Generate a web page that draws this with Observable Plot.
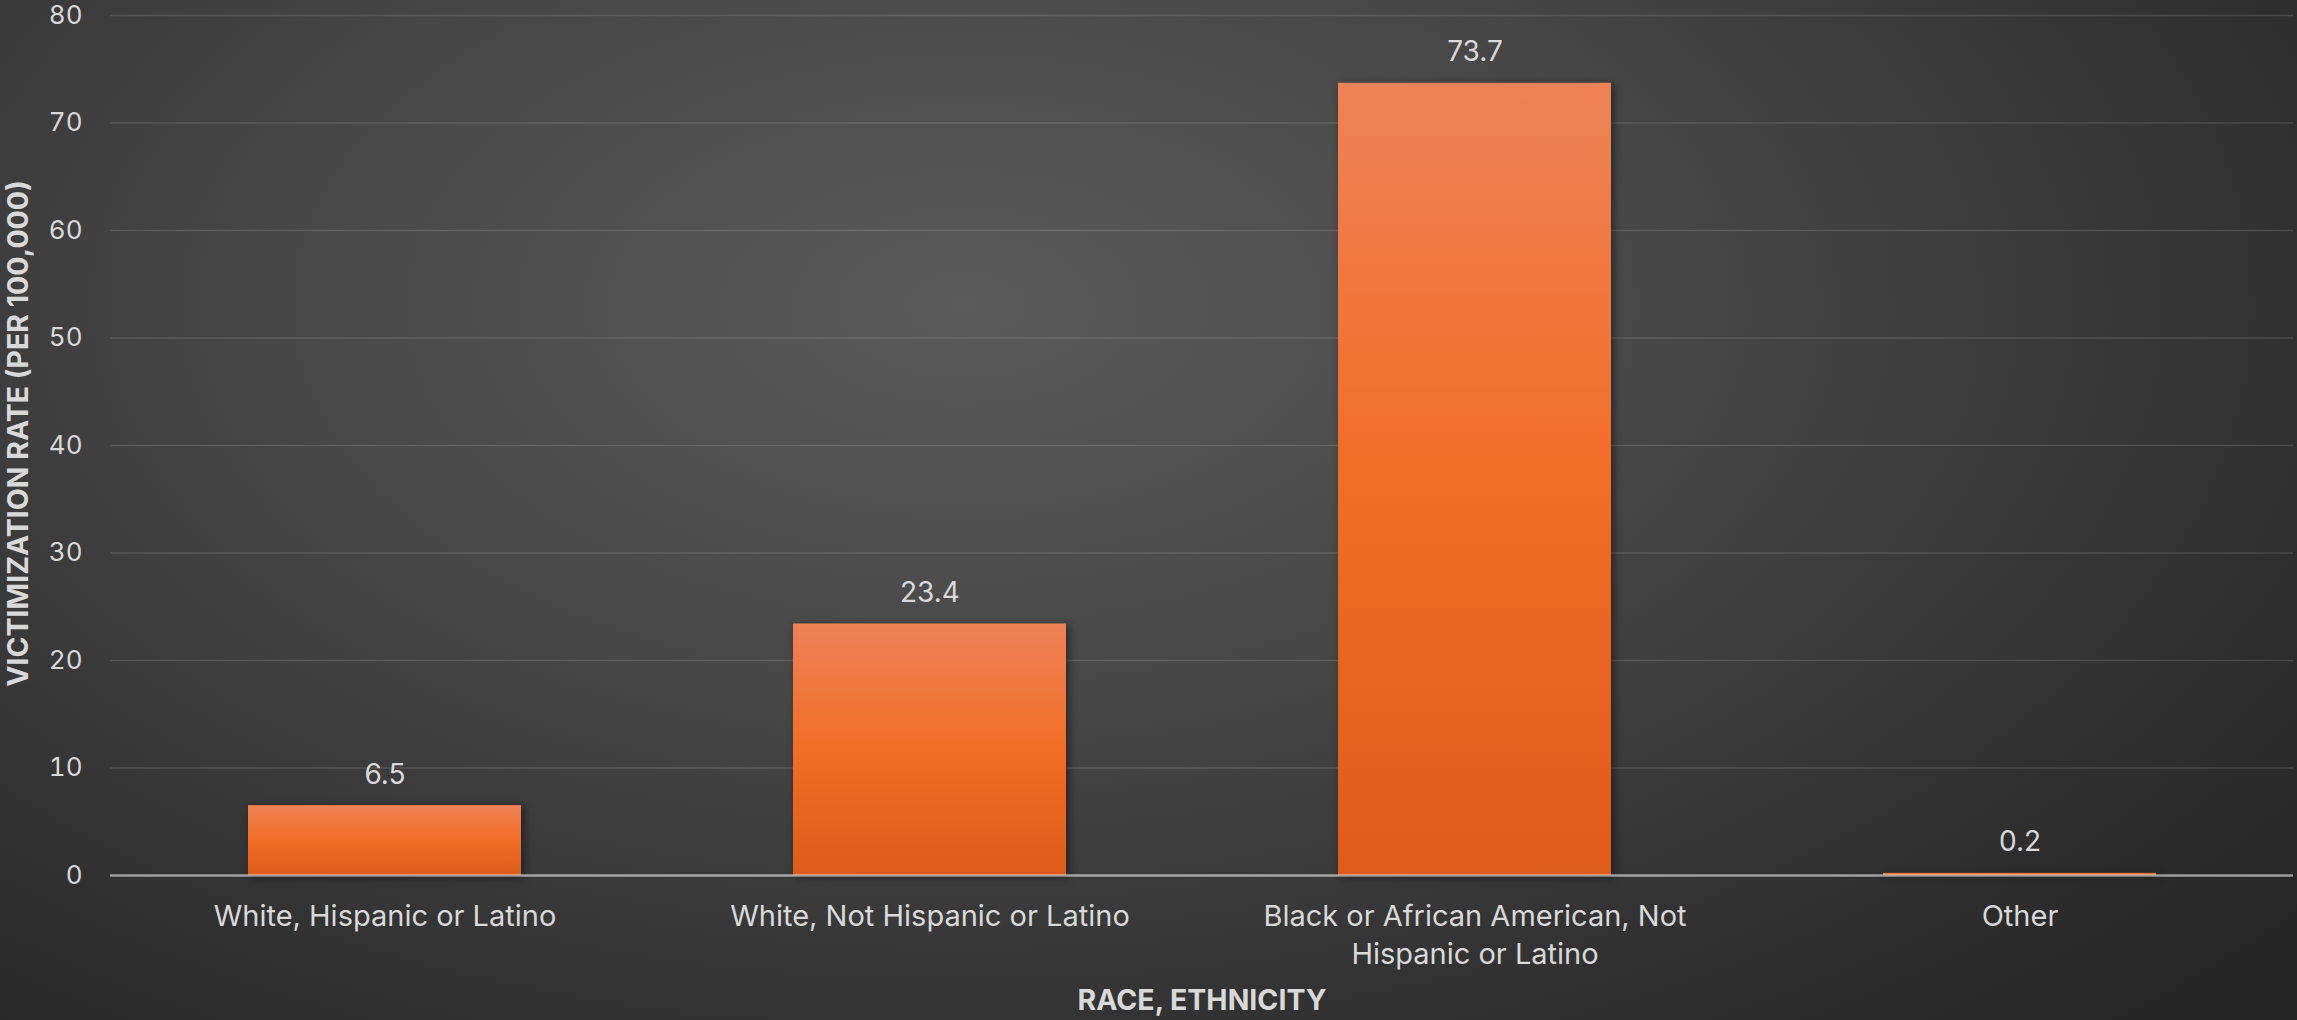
<!DOCTYPE html>
<html><head><meta charset="utf-8">
<script src="https://cdn.jsdelivr.net/npm/d3@7"></script>
<script src="https://cdn.jsdelivr.net/npm/@observablehq/plot@0.6"></script>
<style>
html,body{margin:0;padding:0;}
body{width:2297px;height:1020px;overflow:hidden;
  background: radial-gradient(ellipse 75% 95% at 42% 30%, #5a5a5a 0%, #474747 40%, #2f2f2f 80%, #262626 100%);}
#chart svg g[aria-label="bar"] rect{filter: drop-shadow(3px 2px 4px rgba(0,0,0,0.45));}
</style></head><body><div id="chart"></div>
<script>
const categories = ["White, Hispanic or Latino", "White, Not Hispanic or Latino", "Black or African American, Not Hispanic or Latino", "Other"];
const rates = [6.5, 23.4, 73.7, 0.2];
const tickLabels = ["White, Hispanic or Latino", "White, Not Hispanic or Latino", "Black or African American, Not\nHispanic or Latino", "Other"];
const yTicks = [0, 10, 20, 30, 40, 50, 60, 70, 80];
const xTitle = "RACE, ETHNICITY";
const yTitle = "VICTIMIZATION RATE (PER 100,000)";

const data = categories.map((c, i) => ({category: c, rate: rates[i]}));
const textColor = "#d9d9d9";
const font = "Inter, 'Noto Sans', sans-serif";

const chart = Plot.plot({
  width: 2297, height: 1020,
  marginTop: 15, marginBottom: 145, marginLeft: 110, marginRight: 4,
  style: {background: "transparent", fontFamily: font, fontSize: "26px", color: textColor},
  x: {domain: categories, paddingInner: 0.5, paddingOuter: 0.25, axis: null},
  y: {domain: [0, 80], axis: null},
  marks: [
    Plot.gridY(yTicks, {stroke: "#fff", strokeOpacity: 0.13, strokeWidth: 1.4}),
    Plot.axisY(yTicks, {tickSize: 0, tickPadding: 28, fontSize: 26, label: null}),
    Plot.barY(data, {x: "category", y: "rate", fill: "url(#barGrad)"}),
    Plot.ruleY([0], {stroke: "#fff", strokeOpacity: 0.5, strokeWidth: 2.5}),
    Plot.text(data, {x: "category", y: "rate", text: d => d.rate.toFixed(1), lineAnchor: "bottom", dy: -22, fill: textColor, fontSize: 28}),
    Plot.axisX(categories, {tickSize: 0, tickPadding: 24, tickFormat: d => tickLabels[categories.indexOf(d)], lineHeight: 1.3, fontSize: 29, label: null}),
    Plot.text([xTitle], {text: d => d, frameAnchor: "bottom", textAnchor: "middle", lineAnchor: "middle", dy: 125, fontWeight: 700, fontSize: 28.5, fill: textColor}),
    Plot.text([yTitle], {text: d => d, frameAnchor: "left", textAnchor: "middle", rotate: -90, lineAnchor: "middle", dx: -92, dy: -12, fontWeight: 700, fontSize: 28.5, fill: textColor})
  ]
});

const defs = d3.select(chart).insert("defs", ":first-child");
const grad = defs.append("linearGradient").attr("id", "barGrad")
  .attr("x1", 0).attr("y1", 0).attr("x2", 0).attr("y2", 1);
grad.append("stop").attr("offset", 0).attr("stop-color", "#ee8257");
grad.append("stop").attr("offset", 0.5).attr("stop-color", "#f26d25");
grad.append("stop").attr("offset", 1).attr("stop-color", "#de5c19");

document.getElementById("chart").appendChild(chart);
</script>
</body></html>
